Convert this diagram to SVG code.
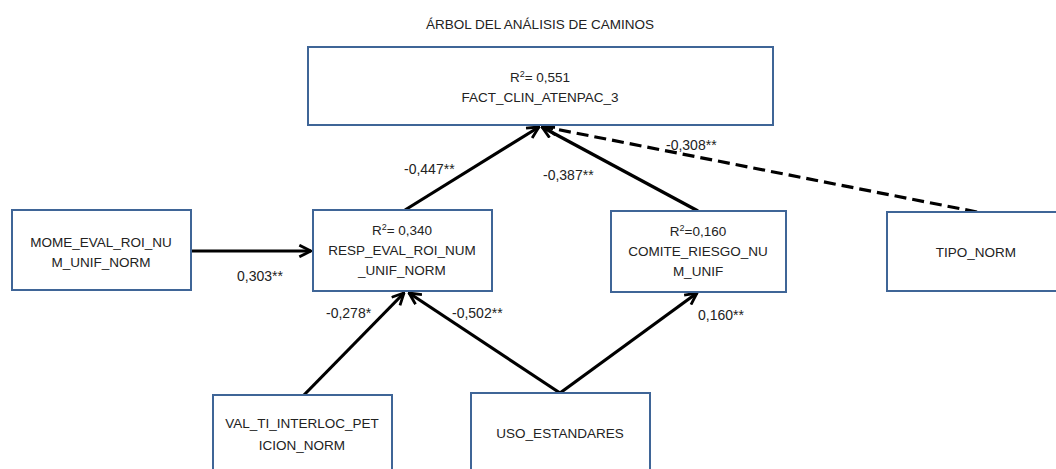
<svg xmlns="http://www.w3.org/2000/svg" width="1056" height="469" viewBox="0 0 1056 469">
<style>
.box{fill:#fff;stroke:#3f6597;stroke-width:2}
.t{font-family:"Liberation Sans",Arial,sans-serif;font-size:13.5px;fill:#222;text-anchor:middle}
.l{font-family:"Liberation Sans",Arial,sans-serif;font-size:14px;fill:#222}
.c{stroke:#000;stroke-width:3.2;fill:none}
.d{stroke-dasharray:12,6}
</style>
<defs>
<marker id="ah" viewBox="0 0 12 12" refX="11" refY="6" markerWidth="14" markerHeight="14" markerUnits="userSpaceOnUse" orient="auto">
<path d="M1,1 L11,6 L1,11" fill="none" stroke="#000" stroke-width="2.4"/>
</marker>
</defs>
<rect width="1056" height="469" fill="#fff"/>
<text class="t" x="540" y="29" font-size="14">ÁRBOL DEL ANÁLISIS DE CAMINOS</text>
<g id="connectors">
<line class="c" x1="191" y1="251" x2="311" y2="251" marker-end="url(#ah)"/>
<line class="c" x1="405" y1="210" x2="539" y2="127" marker-end="url(#ah)"/>
<line class="c" x1="698" y1="211" x2="542" y2="127" marker-end="url(#ah)"/>
<line class="c d" x1="977" y1="212" x2="545" y2="127" marker-end="url(#ah)"/>
<line class="c" x1="303" y1="396" x2="404" y2="293" marker-end="url(#ah)"/>
<line class="c" x1="560" y1="393" x2="409" y2="293" marker-end="url(#ah)"/>
<line class="c" x1="560" y1="393" x2="697" y2="293" marker-end="url(#ah)"/>
<text class="l" x="404" y="174">-0,447**</text>
<text class="l" x="543" y="180">-0,387**</text>
<text class="l" x="666" y="150">-0,308**</text>
<text class="l" x="237" y="281">0,303**</text>
<text class="l" x="326" y="318">-0,278*</text>
<text class="l" x="452" y="318">-0,502**</text>
<text class="l" x="698" y="320">0,160**</text>
</g>
<g id="n_fact">
<rect class="box" x="308" y="47" width="465" height="78"/>
<text class="t" x="540" y="82">R<tspan font-size="9" dy="-5">2</tspan><tspan dy="5">= 0,551</tspan></text>
<text class="t" x="540" y="102">FACT_CLIN_ATENPAC_3</text>
</g>
<g id="n_mome">
<rect class="box" x="12" y="210" width="179" height="80"/>
<text class="t" x="101" y="247">MOME_EVAL_ROI_NU</text>
<text class="t" x="101" y="267">M_UNIF_NORM</text>
</g>
<g id="n_resp">
<rect class="box" x="313" y="210" width="179" height="81"/>
<text class="t" x="402" y="235">R<tspan font-size="9" dy="-5">2</tspan><tspan dy="5">= 0,340</tspan></text>
<text class="t" x="402" y="255">RESP_EVAL_ROI_NUM</text>
<text class="t" x="402" y="275">_UNIF_NORM</text>
</g>
<g id="n_comite">
<rect class="box" x="611" y="211" width="175" height="81"/>
<text class="t" x="698" y="236">R<tspan font-size="9" dy="-5">2</tspan><tspan dy="5">=0,160</tspan></text>
<text class="t" x="698" y="256">COMITE_RIESGO_NU</text>
<text class="t" x="698" y="276">M_UNIF</text>
</g>
<g id="n_tipo">
<rect class="box" x="887" y="212" width="200" height="79"/>
<text class="t" x="976" y="257">TIPO_NORM</text>
</g>
<g id="n_val">
<rect class="box" x="213" y="395" width="179" height="90"/>
<text class="t" x="302" y="428">VAL_TI_INTERLOC_PET</text>
<text class="t" x="302" y="450">ICION_NORM</text>
</g>
<g id="n_uso">
<rect class="box" x="471" y="393" width="179" height="92"/>
<text class="t" x="560" y="438">USO_ESTANDARES</text>
</g>
</svg>
